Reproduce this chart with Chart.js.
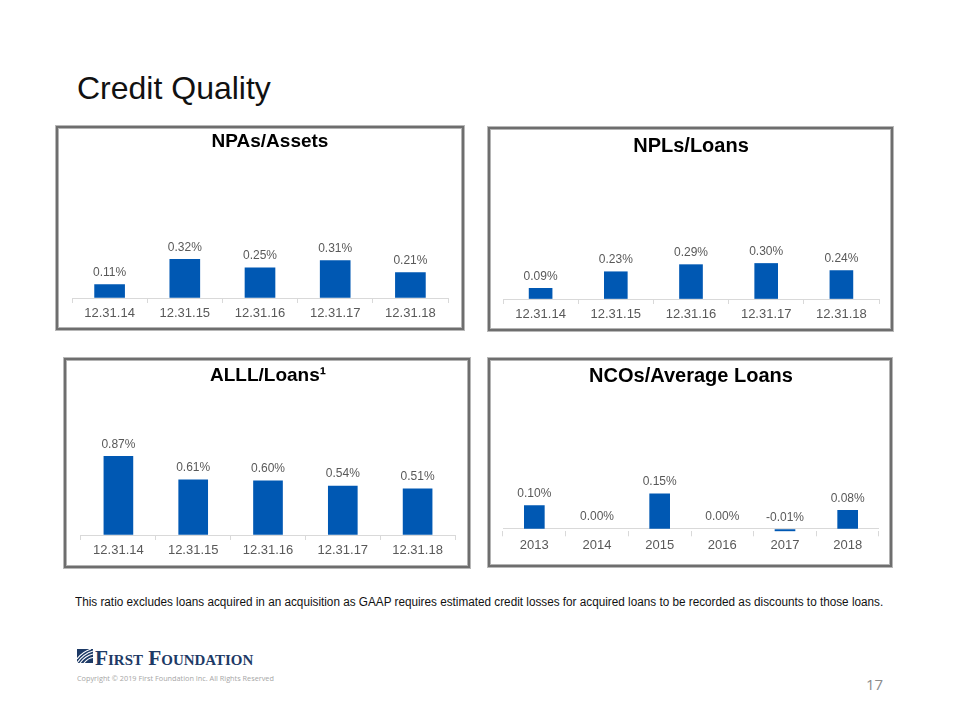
<!DOCTYPE html>
<html>
<head>
<meta charset="utf-8">
<script src="https://cdn.jsdelivr.net/npm/chart.js@4.4.1/dist/chart.umd.min.js"></script>
<style>
  html, body { margin: 0; padding: 0; background: #fff; }
  body { width: 960px; height: 720px; position: relative; overflow: hidden; font-family: "Liberation Sans", Arial, sans-serif; }
  .panel { position: absolute; box-sizing: border-box; border: 2px solid #6e6e6e; box-shadow: 0 0 0 1px #b8b8b8, inset 0 0 0 1px #b4b4b4; background: #fff; }
  canvas.c { position: absolute; }
  .txt { position: absolute; white-space: nowrap; transform-origin: 0 0; }
  #pageTitle { left: 77px; top: 72px; font-size: 32px; line-height: 32px; color: #111; }
  #footnote { left: 75px; top: 596px; font-size: 12px; line-height: 12px; color: #111; }
  #logo { left: 77px; top: 648px; }
  #logoText { left: 95px; top: 648px; font-family: "Liberation Serif", "DejaVu Serif", serif; font-weight: bold; font-variant: small-caps; font-size: 20px; line-height: 20px; color: #1d3a66; }
  #copyright { left: 77px; top: 674px; font-family: "Open Sans", sans-serif; font-size: 8px; line-height: 8px; color: #a6a6a6; }
  #pageNum { left: 866px; top: 677px; font-family: "Open Sans", sans-serif; font-size: 15px; line-height: 15px; color: #8c8c8c; }
</style>
</head>
<body>
<div id="pageTitle" class="txt">Credit Quality</div>

<div class="panel" style="left:56px;top:126px;width:408px;height:204px;"></div>
<div class="panel" style="left:488px;top:127px;width:405px;height:204px;"></div>
<div class="panel" style="left:64px;top:358px;width:406px;height:210px;"></div>
<div class="panel" style="left:488px;top:358px;width:404px;height:209px;"></div>

<canvas id="npaChart" class="c" width="420" height="196" style="left:60px;top:130px;"></canvas>
<canvas id="nplChart" class="c" width="397" height="196" style="left:492px;top:131px;"></canvas>
<canvas id="alllChart" class="c" width="398" height="202" style="left:68px;top:362px;"></canvas>
<canvas id="ncoChart" class="c" width="396" height="201" style="left:492px;top:362px;"></canvas>

<div id="footnote" class="txt">This ratio excludes loans acquired in an acquisition as GAAP requires estimated credit losses for acquired loans to be recorded as discounts to those loans.</div>

<svg id="logo" class="txt" width="17" height="16" viewBox="0 0 17 16">
  <rect x="0" y="1" width="16" height="14" fill="#1d3a66"/>
  <path d="M0 15 Q6 6 16 3" stroke="#fff" stroke-width="1.2" fill="none"/>
  <path d="M3 15 Q8 8 16 6" stroke="#fff" stroke-width="1.2" fill="none"/>
  <path d="M0 11 Q5 4 14 1" stroke="#fff" stroke-width="1.2" fill="none"/>
  <path d="M7 15 Q11 10 16 9.5" stroke="#fff" stroke-width="1.2" fill="none"/>
</svg>
<div id="logoText" class="txt">First Foundation</div>
<div id="copyright" class="txt">Copyright © 2019 First Foundation Inc. All Rights Reserved</div>
<div id="pageNum" class="txt">17</div>

<script>
// --- DADOS ---
const dateLabels = ['12.31.14', '12.31.15', '12.31.16', '12.31.17', '12.31.18'];
const npaValues = [0.11, 0.32, 0.25, 0.31, 0.21];
const nplValues = [0.09, 0.23, 0.29, 0.30, 0.24];
const alllValues = [0.87, 0.61, 0.60, 0.54, 0.51];
const yearLabels = ['2013', '2014', '2015', '2016', '2017', '2018'];
const ncoValues = [0.10, 0.00, 0.15, 0.00, -0.01, 0.08];

const BAR_BLUE = '#0058b3';
const AXIS_GRAY = '#d9d9d9';
const LABEL_GRAY = '#595959';

Chart.defaults.font.family = '"Liberation Sans", Arial, sans-serif';
Chart.defaults.font.size = 12;
Chart.defaults.color = LABEL_GRAY;

// rótulos de valor acima das barras
const valueLabels = {
  id: 'valueLabels',
  afterDatasetsDraw(chart) {
    const { ctx } = chart;
    const meta = chart.getDatasetMeta(0);
    const vals = chart.data.datasets[0].data;
    ctx.save();
    ctx.font = '12px "Liberation Sans", Arial, sans-serif';
    ctx.fillStyle = LABEL_GRAY;
    ctx.textAlign = 'center';
    ctx.textBaseline = 'middle';
    meta.data.forEach((bar, i) => {
      const top = Math.min(bar.y, bar.base);
      ctx.fillText(vals[i].toFixed(2) + '%', bar.x, top - 12);
    });
    ctx.restore();
  }
};

const makeChart = (id, title, labels, values, cfg) => new Chart(document.getElementById(id), {
  type: 'bar',
  data: {
    labels,
    datasets: [{
      data: values,
      // barras de valor zero não aparecem no original
      backgroundColor: (c) => (c.raw === 0 ? 'rgba(0,0,0,0)' : BAR_BLUE),
      barThickness: cfg.barThickness
    }]
  },
  options: {
    responsive: false,
    animation: false,
    layout: { padding: { left: cfg.padL, right: cfg.padR, top: 0, bottom: 0 } },
    plugins: {
      legend: { display: false },
      tooltip: { enabled: false },
      title: {
        display: true,
        text: title,
        color: '#000',
        font: { size: cfg.titleSize, weight: 'bold' },
        padding: { top: cfg.titleTop, bottom: cfg.titleBottom }
      }
    },
    scales: {
      x: {
        border: { display: false },
        grid: { drawOnChartArea: false, tickLength: 5, color: AXIS_GRAY },
        ticks: { color: LABEL_GRAY, padding: cfg.tickPad, font: { size: 13 } },
        afterFit: (s) => { s.height = cfg.xHeight; }
      },
      y: {
        position: cfg.yPos || 'left',
        min: cfg.min,
        max: cfg.max,
        border: { display: false },
        ticks: { display: false },
        grid: { drawTicks: false, color: (c) => (c.tick && c.tick.value === 0 ? AXIS_GRAY : 'rgba(0,0,0,0)') },
        afterBuildTicks: (s) => { s.ticks = [{ value: 0 }]; },
        afterFit: (s) => { s.width = cfg.yWidth || 0; }
      }
    }
  },
  plugins: [valueLabels]
});

makeChart('npaChart', 'NPAs/Assets', dateLabels, npaValues, {
  barThickness: 30, padL: 12, padR: 12, yPos: 'right', yWidth: 20,
  titleSize: 19, titleTop: 0.6, titleBottom: 6, min: 0, max: 1.145, xHeight: 28, tickPad: 3
});
makeChart('nplChart', 'NPLs/Loans', dateLabels, nplValues, {
  barThickness: 23, padL: 11, padR: 10,
  titleSize: 20, titleTop: 3, titleBottom: 6, min: 0, max: 1.14, xHeight: 28, tickPad: 3
});
makeChart('alllChart', 'ALLL/Loans¹', dateLabels, alllValues, {
  barThickness: 29, padL: 13, padR: 11,
  titleSize: 19, titleTop: 2.6, titleBottom: 6, min: 0, max: 1.565, xHeight: 29, tickPad: 3
});
makeChart('ncoChart', 'NCOs/Average Loans', yearLabels, ncoValues, {
  barThickness: 20, padL: 11, padR: 9,
  titleSize: 20, titleTop: 2, titleBottom: 6, min: -0.01, max: 0.577, xHeight: 31.7, tickPad: 1
});

// ajusta larguras dos textos ao original
const fitWidth = (id, w) => {
  const el = document.getElementById(id);
  el.style.transform = `scaleX(${w / el.offsetWidth})`;
};
fitWidth('footnote', 808);
fitWidth('logoText', 158);
fitWidth('copyright', 197);
</script>
</body>
</html>
